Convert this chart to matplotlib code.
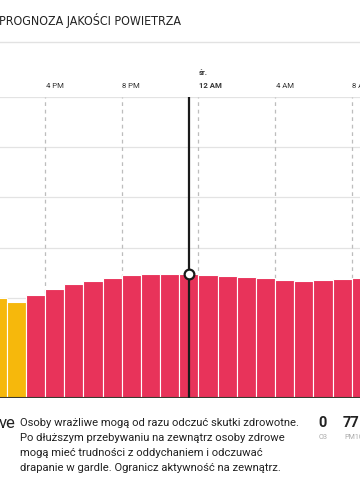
import matplotlib
matplotlib.use("Agg")
import matplotlib.pyplot as plt

# hourly forecast, hour 13 = 1 PM, 24 = midnight, 32 = 8 AM next day
hours = list(range(13, 33))
aqi = [100, 96, 103, 109, 114, 117, 120, 123, 124, 124,
       124, 123, 122, 121, 120, 118, 117, 118, 119, 120]
tick_hours = [16, 20, 24, 28, 32]
tick_labels = ["4 PM", "8 PM", "12 AM", "4 AM", "8 AM"]
now_hour = 23.5
now_value = 124

yellow = "#F6B80C"
red = "#E8335A"
colors = [yellow if v <= 100 else red for v in aqi]

W, H = 360, 480
fig = plt.figure(figsize=(W / 100, H / 100), dpi=100)


def fx(x):
    return x / W


def fy(y):
    return 1 - y / H


ax = fig.add_axes([0, fy(398), 1, fy(97) - fy(398)])
ax.set_xlim(13.65, 32.43)
ax.set_ylim(0, 300)

for y in range(50, 301, 50):
    ax.axhline(y, color="#e3e3e3", lw=0.9, zorder=0)
for h in tick_hours:
    ax.axvline(h, color="#bdbdbd", lw=0.9, ls=(0, (3, 3)), zorder=0)

ax.bar(hours, aqi, width=1, align="edge", color=colors,
       edgecolor="white", linewidth=0.8, zorder=2)
ax.axhline(0, color="#3a3a30", lw=1.5, zorder=3)

ax.axvline(now_hour, color="#1a1a1a", lw=1.6, zorder=4)
ax.plot([now_hour], [now_value], "o", ms=7, mfc="white", mec="#1a1a1a",
        mew=1.6, zorder=5)

ax.set_xticks([])
ax.set_yticks([])
for s in ax.spines.values():
    s.set_visible(False)

# hour labels above the plot
for h, lab in zip(tick_hours, tick_labels):
    xpix = (h - 13.65) / (32.43 - 13.65) * W
    fig.text(fx(xpix + 0.5), fy(88.5), lab, fontsize=5.6, color="#333333",
             family="Roboto", weight="bold" if lab == "12 AM" else "normal",
             ha="left", va="baseline")
fig.text(fx(198.5), fy(75), "śr.", fontsize=5.6, color="#333333",
         family="Roboto", weight="bold", ha="left", va="baseline")

# header
fig.text(fx(-1), fy(24.5), "PROGNOZA JAKOŚCI POWIETRZA", fontsize=8.9,
         color="#222222", family="DejaVu Sans", stretch="condensed",
         ha="left", va="baseline")
fig.add_artist(plt.Line2D([0, 1], [fy(42), fy(42)], color="#e2e2e2", lw=1))

# description below
fig.text(fx(-1), fy(427.5), "ve", fontsize=12, color="#222222",
         family="Roboto", ha="left", va="baseline")
lines = ["Osoby wrażliwe mogą od razu odczuć skutki zdrowotne.",
         "Po dłuższym przebywaniu na zewnątrz osoby zdrowe",
         "mogą mieć trudności z oddychaniem i odczuwać",
         "drapanie w gardle. Ogranicz aktywność na zewnątrz."]
for i, t in enumerate(lines):
    fig.text(fx(20.5), fy(425.7 + 15 * i), t, fontsize=8.1, color="#222222",
             family="Roboto", ha="left", va="baseline")

fig.text(fx(318), fy(427), "0", fontsize=10.5, weight="bold", color="#222222",
         family="Roboto", ha="left", va="baseline")
fig.text(fx(319), fy(439), "O3", fontsize=5.2, color="#aaaaaa",
         family="Roboto", ha="left", va="baseline")
fig.text(fx(343), fy(427), "77", fontsize=10.5, weight="bold", color="#222222",
         family="Roboto", ha="left", va="baseline")
fig.text(fx(344), fy(439), "PM10", fontsize=5.2, color="#aaaaaa",
         family="Roboto", ha="left", va="baseline")

fig.savefig("out.png", dpi=100)
